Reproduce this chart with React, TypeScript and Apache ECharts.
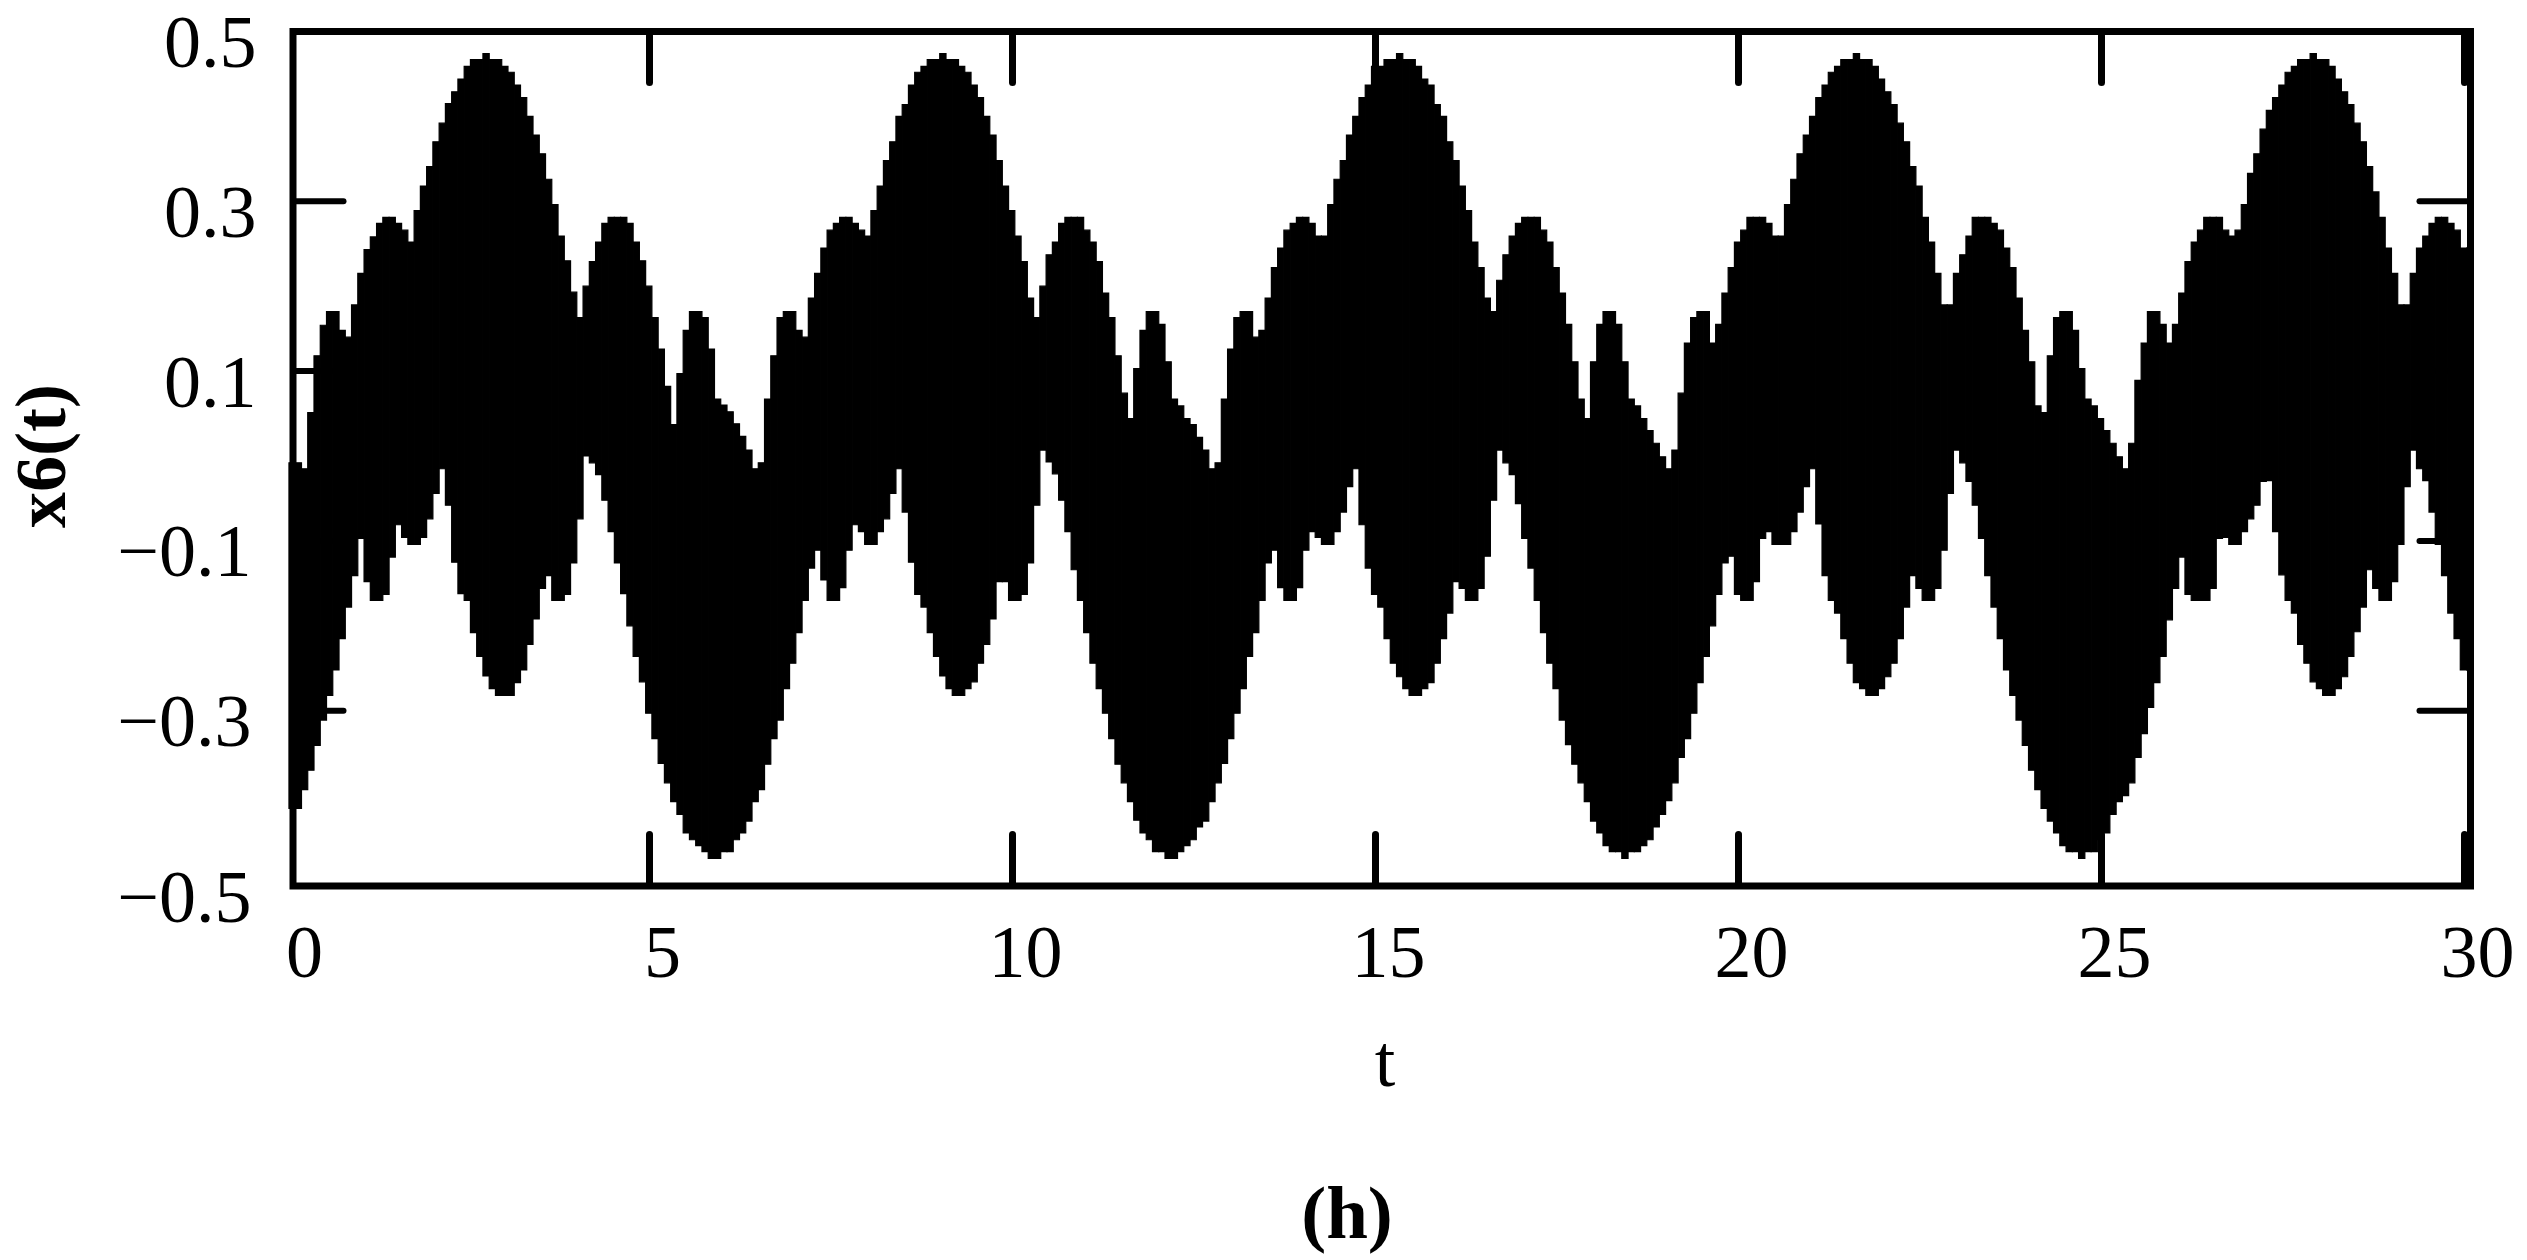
import React, { useEffect, useRef } from "react";
import * as echarts from "echarts";

const FONT = "'Liberation Serif', 'Times New Roman', serif";

const xTickValues = [0, 5, 10, 15, 20, 25, 30];
const xInnerTicks = [5, 10, 15, 20, 25, 30];
const yTickValues = [-0.5, -0.3, -0.1, 0.1, 0.3, 0.5];
const yInnerTicks = [-0.3, -0.1, 0.1, 0.3];
const yTickLabels = ["\u22120.5", "\u22120.3", "\u22120.1", "0.1", "0.3", "0.5"];

// Width of one stair step of the plotted envelope, and where the first step starts, in t.
const stepStart = 0.034;
const stepWidth = 0.08619;

// Upper edge of the black band, one value per stair step.
const upperEdge = [
  -.008,-.008,-.015,.051,.118,.154,.170,.170,.148,.140,
  .178,.215,.243,.258,.274,.281,.281,.274,.266,.252,
  .289,.318,.341,.370,.392,.415,.429,.444,.459,.467,
  .467,.474,.467,.467,.459,.452,.437,.422,.400,.378,
  .356,.326,.296,.259,.230,.193,.163,.200,.229,.252,
  .274,.281,.281,.281,.274,.252,.230,.200,.163,.126,
  .082,.037,.097,.148,.170,.170,.163,.126,.067,.060,
  .052,.038,.023,.007,-.015,-.008,.067,.118,.163,.170,
  .170,.148,.140,.186,.215,.245,.266,.274,.281,.281,
  .274,.266,.259,.289,.318,.348,.370,.400,.414,.437,
  .452,.459,.467,.467,.474,.467,.467,.459,.452,.437,
  .422,.400,.378,.348,.318,.289,.259,.229,.186,.163,
  .200,.237,.252,.274,.281,.281,.281,.266,.252,.229,
  .192,.163,.118,.074,.044,.103,.148,.170,.170,.155,
  .111,.067,.059,.044,.037,.022,.007,-.015,-.008,.067,
  .126,.163,.170,.170,.140,.148,.186,.222,.245,.266,
  .274,.281,.281,.274,.259,.259,.296,.326,.348,.378,
  .400,.422,.437,.459,.459,.467,.467,.474,.467,.467,
  .459,.444,.437,.414,.400,.370,.348,.318,.289,.252,
  .222,.186,.170,.207,.237,.259,.274,.281,.281,.281,
  .266,.252,.222,.192,.155,.111,.067,.044,.111,.155,
  .170,.170,.155,.111,.067,.059,.044,.030,.015,-.001,
  -.015,.007,.074,.133,.163,.170,.170,.133,.155,.192,
  .222,.252,.266,.281,.281,.281,.274,.259,.259,.296,
  .326,.356,.378,.400,.422,.437,.452,.459,.467,.467,
  .474,.467,.467,.459,.444,.429,.414,.392,.370,.341,
  .318,.281,.252,.215,.178,.178,.215,.237,.259,.281,
  .281,.281,.274,.266,.245,.222,.186,.148,.111,.059,
  .051,.118,.163,.170,.170,.148,.103,.067,.059,.044,
  .030,.015,-.001,-.015,.015,.089,.133,.170,.170,.155,
  .133,.155,.192,.229,.252,.266,.281,.281,.281,.266,
  .259,.266,.296,.333,.356,.385,.407,.422,.437,.452,
  .459,.467,.467,.474,.467,.467,.459,.444,.429,.414,
  .392,.370,.341,.311,.281,.245,.215,.178,.178,.215,
  .245,.259,.274,.281,.281,.274,.266,.245,.245,
];

// Lower edge of the black band, one value per stair step.
const lowerEdge = [
  -.415,-.415,-.393,-.370,-.341,-.311,-.282,-.252,-.215,-.178,
  -.141,-.097,-.148,-.170,-.170,-.163,-.119,-.081,-.096,-.104,
  -.104,-.096,-.074,-.044,-.015,-.058,-.125,-.162,-.170,-.208,
  -.236,-.259,-.274,-.282,-.282,-.282,-.267,-.252,-.222,-.192,
  -.156,-.141,-.170,-.170,-.163,-.126,-.074,.000,-.008,-.022,
  -.052,-.089,-.126,-.162,-.200,-.236,-.266,-.303,-.333,-.362,
  -.385,-.407,-.422,-.444,-.452,-.459,-.466,-.474,-.474,-.466,
  -.466,-.452,-.444,-.430,-.407,-.393,-.363,-.333,-.311,-.274,
  -.244,-.208,-.170,-.132,-.111,-.146,-.170,-.170,-.155,-.111,
  -.081,-.089,-.104,-.104,-.089,-.074,-.044,-.015,-.066,-.125,
  -.163,-.178,-.208,-.236,-.259,-.274,-.282,-.282,-.274,-.266,
  -.244,-.222,-.192,-.148,-.148,-.170,-.170,-.163,-.126,-.058,
  .007,-.007,-.021,-.052,-.089,-.134,-.170,-.208,-.244,-.274,
  -.303,-.333,-.363,-.385,-.407,-.429,-.444,-.452,-.466,-.466,
  -.474,-.474,-.466,-.459,-.452,-.437,-.430,-.407,-.385,-.362,
  -.333,-.303,-.274,-.236,-.208,-.170,-.126,-.111,-.155,-.170,
  -.170,-.155,-.111,-.089,-.096,-.104,-.104,-.089,-.066,-.036,
  -.015,-.081,-.132,-.163,-.178,-.215,-.244,-.260,-.274,-.282,
  -.282,-.274,-.267,-.244,-.215,-.185,-.148,-.156,-.170,-.170,
  -.156,-.118,-.052,.007,-.008,-.022,-.056,-.097,-.132,-.170,
  -.208,-.244,-.274,-.311,-.340,-.363,-.385,-.407,-.430,-.444,
  -.459,-.466,-.466,-.474,-.466,-.466,-.459,-.452,-.437,-.422,
  -.406,-.385,-.355,-.333,-.303,-.267,-.236,-.200,-.163,-.126,
  -.118,-.163,-.170,-.170,-.148,-.097,-.089,-.104,-.104,-.104,
  -.089,-.066,-.036,-.015,-.080,-.141,-.170,-.185,-.215,-.244,
  -.267,-.274,-.282,-.282,-.274,-.260,-.244,-.215,-.178,-.141,
  -.156,-.170,-.170,-.156,-.111,-.044,.007,-.008,-.030,-.058,
  -.097,-.141,-.178,-.215,-.252,-.282,-.311,-.341,-.370,-.393,
  -.415,-.430,-.444,-.459,-.466,-.466,-.474,-.466,-.466,-.452,
  -.444,-.422,-.407,-.400,-.385,-.355,-.327,-.296,-.267,-.236,
  -.193,-.156,-.119,-.163,-.170,-.170,-.170,-.156,-.097,-.096,
  -.104,-.104,-.089,-.074,-.058,-.030,-.029,-.089,-.140,-.170,
  -.185,-.222,-.244,-.266,-.274,-.282,-.282,-.274,-.260,-.236,
  -.207,-.178,-.134,-.156,-.170,-.170,-.148,-.104,-.036,.007,
  -.015,-.029,-.066,-.104,-.141,-.185,-.215,-.252,-.252,
];

const stepData = upperEdge.map((up, i) => [
  stepStart + stepWidth * i,
  stepStart + stepWidth * (i + 1),
  lowerEdge[i],
  up,
]);

const GRID = { left: 286.5, top: 31.5, width: 2178, height: 849 };

function tickLine(x1: number, y1: number, x2: number, y2: number, width: number) {
  return {
    type: "line",
    shape: { x1, y1, x2, y2 },
    style: { stroke: "#000", lineWidth: width, lineCap: "round" },
  };
}

export default function App() {
  const ref = useRef<HTMLDivElement>(null);
  useEffect(() => {
    const chart = echarts.init(ref.current!, null, { renderer: "svg" });
    const fontBase = { fontFamily: FONT, fontSize: 74, color: "#000" };
    chart.setOption({
      animation: false,
      backgroundColor: "#fff",
      grid: { ...GRID, containLabel: false, outerBoundsMode: "none" },
      xAxis: {
        type: "value",
        min: 0,
        max: 30,
        position: "bottom",
        name: "t",
        nameLocation: "middle",
        nameGap: 143,
        nameMoveOverlap: false,
        nameTextStyle: { ...fontBase, padding: [0, 0, 0, 19] },
        axisLine: { show: false },
        splitLine: { show: false },
        axisTick: { show: false },
        axisLabel: {
          show: true,
          customValues: xTickValues,
          margin: 34,
          ...fontBase,
          padding: [0, 0, 0, 26],
          formatter: (v: number) => (v === 0 ? "{zero|0}" : String(v)),
          rich: { zero: { ...fontBase, padding: [0, 0, 0, 10] } },
        },
      },
      yAxis: {
        type: "value",
        min: -0.5,
        max: 0.5,
        position: "left",
        offset: -6,
        name: "x6(t)",
        nameLocation: "middle",
        nameGap: 216,
        nameMoveOverlap: false,
        nameTextStyle: { fontFamily: FONT, fontSize: 72, fontWeight: "bold", color: "#000" },
        axisLine: { show: false },
        splitLine: { show: false },
        axisTick: { show: false },
        axisLabel: {
          show: true,
          customValues: yTickValues,
          margin: 36,
          ...fontBase,
          align: "right",
          padding: [21, 0, 0, 0],
          formatter: (v: number) => {
            const i = yTickValues.findIndex((t) => Math.abs(t - v) < 1e-6);
            if (i === 0) return `{low|${yTickLabels[i]}}`;
            return v < 0 ? `{neg|${yTickLabels[i]}}` : yTickLabels[i];
          },
          rich: {
            neg: { ...fontBase, padding: [0, 5, 0, 0] },
            low: { ...fontBase, padding: [11, 5, 0, 0] },
          },
        },
      },
      graphic: [
        {
          type: "rect",
          silent: true,
          z: 20,
          shape: { x: 293, y: 31.5, width: 2177.5, height: 854.5 },
          style: { fill: "none", stroke: "#000", lineWidth: 7 },
        },
        {
          type: "text",
          silent: true,
          x: 1347,
          y: 1212,
          style: {
            text: "(h)",
            fontFamily: FONT,
            fontSize: 75,
            fontWeight: "bold",
            fill: "#000",
            align: "center",
            verticalAlign: "middle",
          },
        },
      ],
      series: [
        {
          type: "custom",
          name: "x6(t)",
          silent: true,
          clip: false,
          z: 5,
          data: stepData,
          encode: { x: [0, 1], y: [2, 3] },
          renderItem: (_params: any, api: any) => {
            const a = api.coord([api.value(0), api.value(3)]);
            const b = api.coord([api.value(1), api.value(2)]);
            return {
              type: "rect",
              shape: { x: a[0], y: a[1], width: b[0] - a[0], height: b[1] - a[1] },
              style: { fill: "#000", stroke: "#000", lineWidth: 1.2 },
            };
          },
        },
        {
          type: "custom",
          name: "t ticks",
          silent: true,
          clip: false,
          z: 6,
          data: xInnerTicks.map((t) => [t]),
          encode: { x: 0 },
          renderItem: (_params: any, api: any) => {
            const top = api.coord([api.value(0), 0.5]);
            const bottom = api.coord([api.value(0), -0.5]);
            return {
              type: "group",
              children: [
                tickLine(top[0], top[1] + 4, top[0], top[1] + 51, 7),
                tickLine(bottom[0], bottom[1] + 2, bottom[0], bottom[1] - 46, 7),
              ],
            };
          },
        },
        {
          type: "custom",
          name: "x6 ticks",
          silent: true,
          clip: false,
          z: 6,
          data: yInnerTicks.map((v) => [0, v]),
          encode: { x: 0, y: 1 },
          renderItem: (_params: any, api: any) => {
            const left = api.coord([0, api.value(1)]);
            const right = api.coord([30, api.value(1)]);
            return {
              type: "group",
              children: [
                tickLine(left[0] + 9, left[1], left[0] + 57, left[1], 6),
                tickLine(right[0] + 2, right[1], right[0] - 45, right[1], 6),
              ],
            };
          },
        },
      ],
    });
    return () => chart.dispose();
  }, []);
  return (
    <div
      ref={ref}
      style={{ position: "absolute", left: 0, top: 0, width: 2527, height: 1260, background: "#fff" }}
    />
  );
}
